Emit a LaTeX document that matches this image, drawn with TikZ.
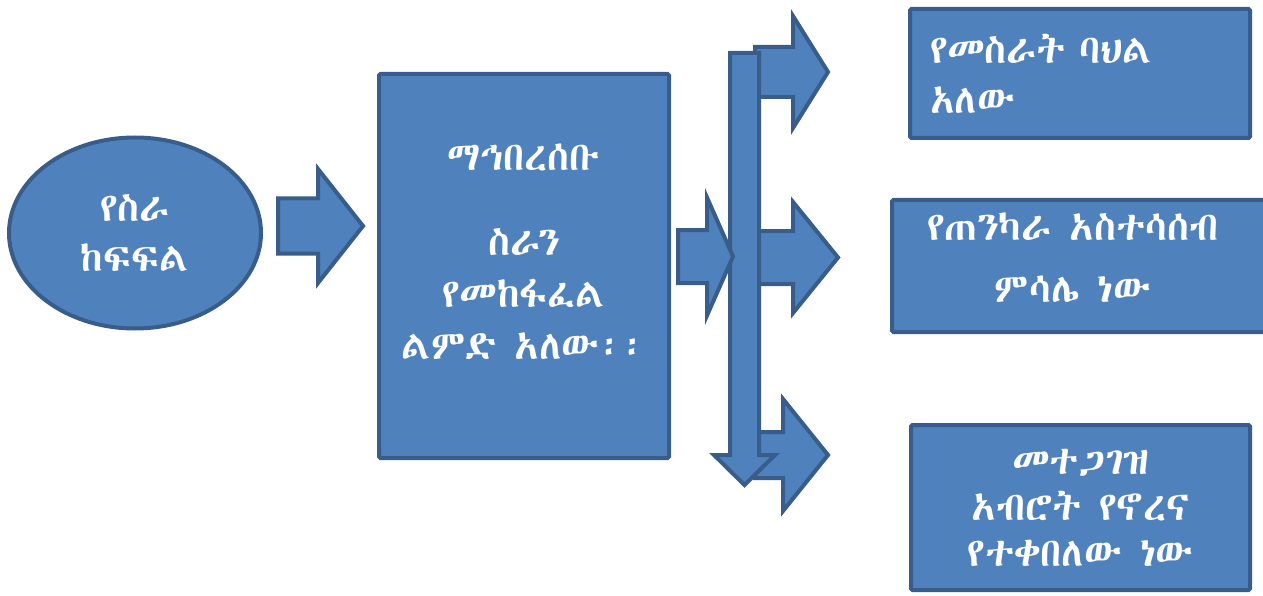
\documentclass[tikz,border=0pt]{standalone}
\usepackage{fontspec}
\IfFontExistsTF{Abyssinica SIL}{\newfontfamily\ethfont{Abyssinica SIL}}{%
  \IfFontExistsTF{FreeSerif}{\newfontfamily\ethfont{FreeSerif}}{\newfontfamily\ethfont{DejaVu Sans}}}
\usetikzlibrary{shapes.geometric}
\definecolor{boxfill}{HTML}{4F81BD}
\definecolor{boxline}{HTML}{385D8A}
% right-pointing block arrow: x start, x head base, x tip, y mid, shaft half, head half
\newcommand{\blockarrow}[6]{\filldraw[blockarrow] ({#1},{#4-#5}) -- ({#2},{#4-#5}) -- ({#2},{#4-#6}) -- ({#3},{#4}) -- ({#2},{#4+#6}) -- ({#2},{#4+#5}) -- ({#1},{#4+#5}) -- cycle;}
\begin{document}
\begin{tikzpicture}[x=1pt,y=-1pt,
	blockarrow/.style={fill=boxfill, draw=boxline, line width=4pt},
	bluebox/.style={rectangle, fill=boxfill, draw=boxline, line width=4pt, rounded corners=1.5pt, text=white, font=\ethfont\fontsize{40}{50}\selectfont, align=center},
	ovalnode/.style={ellipse, fill=boxfill, draw=boxline, line width=4pt, text=white, font=\ethfont\fontsize{40}{50}\selectfont, align=center, inner sep=0pt},
	boxtext/.style={text=white, font=\ethfont\fontsize{40}{52}\selectfont, align=center}]
	\useasboundingbox (0,0) rectangle (1263,596);
	
	\node[ovalnode, minimum width=252, minimum height=191] (split) at (135,233) {የስራ\\ከፍፍል};
	\node[bluebox, minimum width=290, minimum height=384] (society) at (524,266) {};
	\node[boxtext] (societytext) at (524,252) {ማኅበረሰቡ\\[33pt]ስራን\\የመከፋፈል\\ልምድ አለው፡፡};
	
	\node[bluebox, minimum width=340, minimum height=129, text width=300, align=left] (habit) at (1080,73.5) {የመስራት ባህል\\አለው};
	\node[bluebox, minimum width=374, minimum height=132] (thought) at (1079,266) {};
	\node[boxtext] (thoughttext) at (1073,258) {የጠንካራ አስተሳሰብ\\[10pt]ምሳሌ ነው};
	\node[bluebox, minimum width=339, minimum height=165, font=\ethfont\fontsize{40}{46}\selectfont] (mutual) at (1080.5,507.5) {መተጋገዝ\\አብሮት የኖረና\\የተቀበለው ነው};
	
	% arrows
	\blockarrow{278}{318}{363}{226}{27.5}{57}
	\blockarrow{755}{793}{828}{72}{25}{56}
	\blockarrow{755}{793}{838}{257.5}{26.5}{55.5}
	\blockarrow{755}{783}{828}{455}{23}{56}
	\filldraw[blockarrow] (730,53) -- (759,53) -- (759,455) -- (775,455) -- (744.5,485) -- (714,455) -- (730,455) -- cycle;
	\blockarrow{678}{707}{733}{256.5}{26.5}{59}
\end{tikzpicture}
\end{document}
